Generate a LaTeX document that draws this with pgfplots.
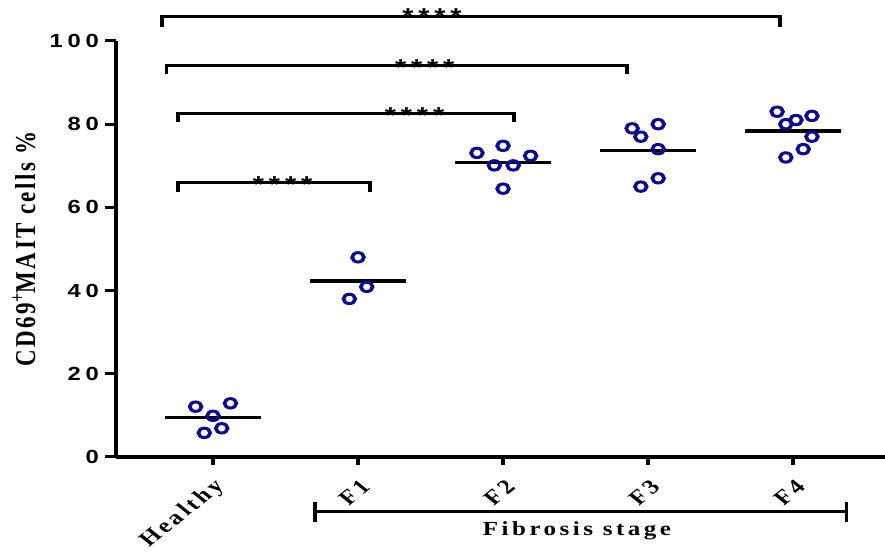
\documentclass[border=0pt]{standalone}
\usepackage{pgfplots}
\pgfplotsset{compat=1.18}
\usepackage{fontspec}
\setmainfont{Liberation Serif}
\newfontfamily\ticksf[LetterSpace=20]{Liberation Sans}
\newfontfamily\lblserif[LetterSpace=14]{Liberation Serif}
\newfontfamily\xtickserif[LetterSpace=13]{Liberation Serif}
\newfontfamily\ylblserif[LetterSpace=11]{Liberation Serif}
\newfontfamily\starsf[LetterSpace=17]{Liberation Sans}
\definecolor{ptnavy}{RGB}{14,14,140}
% prism export is stretched sideways, so the whole picture is drawn narrow and scaled by 1.25
\pgfplotsset{dots/.style={only marks, mark=o, mark size=4.7bp, line width=3bp, color=ptnavy},
  meanline/.style={black, line width=3.6bp, mark=none},
  sig/.style={black, line width=3bp, mark=none, line join=miter}}
\tikzset{stars/.style={anchor=base, font=\starsf\bfseries\fontsize{23bp}{26bp}\selectfont}}
\begin{document}
\scalebox{1.25}[1]{%
\begin{tikzpicture}
\path[use as bounding box] (0,0) rectangle (708bp,554bp);
\begin{axis}[at={(92.8bp,97bp)}, anchor=south west, scale only axis,
  width=615.2bp, height=416bp, clip=false,
  xmin=-0.669, xmax=4.634, ymin=0, ymax=100,
  axis lines*=left, axis line style={line width=3.2bp},
  tick align=outside, major tick length=8.5bp, tick style={line width=3bp, black},
  xtick={0,1,2,3,4}, xticklabels={Healthy,F1,F2,F3,F4},
  ytick={0,20,...,100},
  /pgf/number format/assume math mode=true,
  yticklabel style={font=\ticksf\bfseries\fontsize{19bp}{22bp}\selectfont, anchor=east, inner sep=0pt, xshift=-5bp},
  xticklabel style={font=\xtickserif\bfseries\fontsize{20.5bp}{24bp}\selectfont, anchor=east, inner sep=0pt, xshift=6bp, yshift=-18bp, rotate=45},
  ylabel={CD69\textsuperscript{+}MAIT cells \%},
  ylabel style={at={(axis description cs:-0.1196,0.5)}, anchor=center, rotate=0, font=\ylblserif\bfseries\fontsize{23bp}{26bp}\selectfont}]
% Healthy
\addplot[dots] coordinates {(-0.12,12.1) (0.12,12.9) (0.00,9.9) (0.06,6.9) (-0.06,5.8)};
\addplot[meanline] coordinates {(-0.33,9.5) (0.33,9.5)};
% F1
\addplot[dots] coordinates {(1.00,48.0) (1.06,40.9) (0.94,38.0)};
\addplot[meanline] coordinates {(0.67,42.3) (1.33,42.3)};
% F2
\addplot[dots] coordinates {(1.82,73.1) (2.00,74.8) (2.19,72.4) (1.94,70.1) (2.07,70.1) (2.00,64.5)};
\addplot[meanline] coordinates {(1.67,70.8) (2.33,70.8)};
% F3
\addplot[dots] coordinates {(2.89,79.0) (3.07,80.0) (2.95,77.0) (3.07,74.0) (3.07,67.0) (2.95,65.0)};
\addplot[meanline] coordinates {(2.67,73.7) (3.33,73.7)};
% F4
\addplot[dots] coordinates {(3.89,83.0) (4.02,81.0) (4.13,82.0) (3.95,80.0) (4.13,77.0) (4.07,74.0) (3.95,72.0)};
\addplot[meanline] coordinates {(3.67,78.4) (4.33,78.4)};
% significance brackets
\addplot[sig] coordinates {(-0.352,103.4) (-0.352,105.8) (3.91,105.8) (3.91,103.4)};
\addplot[sig] coordinates {(-0.32,92.1) (-0.32,94.1) (2.855,94.1) (2.855,92.1)};
\addplot[sig] coordinates {(-0.241,80.6) (-0.241,82.6) (2.076,82.6) (2.076,80.6)};
\addplot[sig] coordinates {(-0.241,63.8) (-0.241,66.1) (1.083,66.1) (1.083,63.8)};
\node[stars] at (axis cs:1.51,104.0) {****};
\node[stars] at (axis cs:1.46,91.75) {****};
\node[stars] at (axis cs:1.39,80.2) {****};
\node[stars] at (axis cs:0.48,63.6) {****};
% fibrosis stage bracket
\addplot[sig] coordinates {(0.703,-10.8) (0.703,-15.6)};
\addplot[sig] coordinates {(4.369,-10.8) (4.369,-15.6)};
\addplot[sig] coordinates {(0.703,-13.0) (4.369,-13.0)};
\node[anchor=base, font=\lblserif\bfseries\fontsize{20bp}{22bp}\selectfont] at (axis cs:2.51,-18.9) {Fibrosis stage};
\end{axis}
\end{tikzpicture}}
\end{document}
